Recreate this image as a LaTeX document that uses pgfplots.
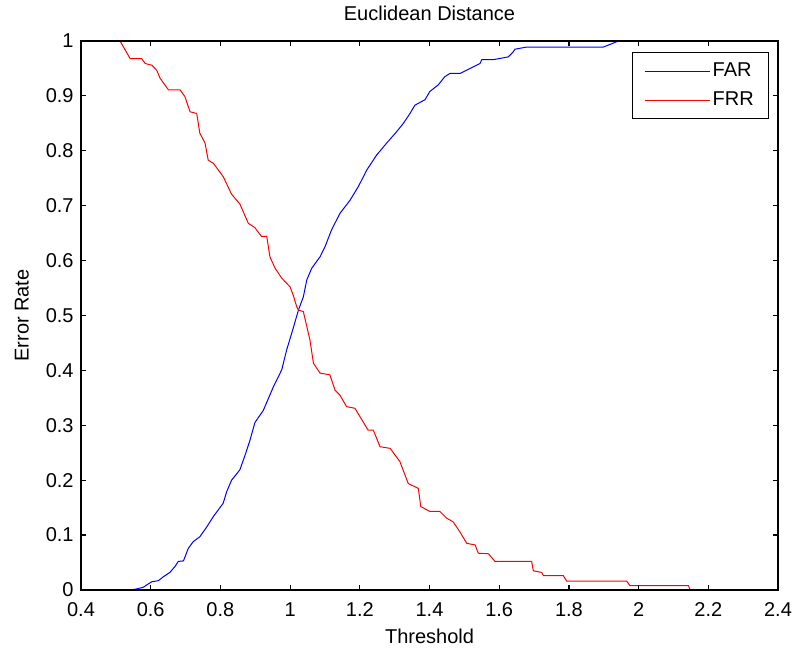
\documentclass[border=0pt]{standalone}
\usepackage{fontspec}
\setmainfont{Liberation Sans}
\usepackage{pgfplots}
\pgfplotsset{compat=1.18}

% 1 px of the reference = 0.75pt
\begin{document}
\begin{tikzpicture}
\useasboundingbox (-60.75pt,-44.25pt) rectangle (536.25pt,442.5pt);
\begin{axis}[
 at={(0,0)},anchor=south west,
 scale only axis,width=522.75pt,height=411.75pt,
 xmin=0.4,xmax=2.4,ymin=0,ymax=1,
 xtick={0.4,0.6,...,2.41},ytick={0,0.1,...,1.01},
 xticklabels={0.4,0.6,0.8,1,1.2,1.4,1.6,1.8,2,2.2,2.4},
 yticklabels={0,0.1,0.2,0.3,0.4,0.5,0.6,0.7,0.8,0.9,1},
 tick align=inside,major tick length=4pt,
 axis line style={line width=0.9pt},
 every tick/.style={black,line width=0.9pt},
 font=\fontsize{15}{18}\selectfont,
 tick label style={font=\fontsize{15}{18}\selectfont},
 xticklabel style={yshift=-6pt},
 yticklabel style={xshift=-2pt},
 every axis title shift=0pt,
 title={Euclidean Distance},
 title style={at={(axis description cs:0.5,1.051)},anchor=center},
 xlabel={Threshold},
 xlabel style={at={(axis description cs:0.5,-0.0838)},anchor=center},
 ylabel={Error Rate},
 ylabel style={at={(axis description cs:-0.0847,0.5)},anchor=center},
 axis on top,
 legend cell align=left,
 legend style={at={(0.987,0.98)},anchor=north east,draw=black,line width=0.75pt,
   font=\fontsize{15}{18}\selectfont,inner xsep=9pt,inner ysep=6pt,
   row sep=6pt,
   /tikz/every even column/.append style={column sep=2pt}},
 legend image code/.code={\draw[#1,line width=0.75pt] (0pt,0pt) -- (48.75pt,0pt);},
]
\addplot[blue,line width=0.75pt] coordinates {
(0.541,0.000) (0.560,0.002) (0.579,0.005) (0.588,0.009) (0.603,0.015)
(0.622,0.017) (0.636,0.024) (0.655,0.032) (0.670,0.043) (0.679,0.052)
(0.694,0.053) (0.708,0.076) (0.722,0.088) (0.741,0.097) (0.761,0.115)
(0.780,0.134) (0.794,0.146) (0.808,0.158) (0.818,0.179) (0.832,0.200)
(0.856,0.219) (0.871,0.246) (0.885,0.273) (0.899,0.305) (0.923,0.327)
(0.952,0.370) (0.976,0.401) (0.990,0.437) (1.009,0.477) (1.024,0.510)
(1.038,0.534) (1.048,0.565) (1.062,0.586) (1.086,0.607) (1.100,0.625)
(1.119,0.656) (1.143,0.686) (1.172,0.710) (1.196,0.735) (1.220,0.765)
(1.248,0.792) (1.277,0.814) (1.306,0.835) (1.325,0.850) (1.344,0.868)
(1.358,0.883) (1.387,0.893) (1.401,0.908) (1.425,0.920) (1.444,0.935)
(1.459,0.941) (1.488,0.941) (1.507,0.947) (1.526,0.953) (1.545,0.959)
(1.550,0.966) (1.583,0.966) (1.626,0.971) (1.640,0.980) (1.645,0.985)
(1.679,0.989) (1.899,0.989) (1.923,0.995) (1.942,1.000) (2.150,1.000)
};
\addplot[red,line width=0.75pt] coordinates {
(0.512,1.000) (0.541,0.968) (0.574,0.968) (0.584,0.959) (0.603,0.956)
(0.617,0.947) (0.627,0.932) (0.651,0.911) (0.684,0.911) (0.698,0.899)
(0.713,0.871) (0.732,0.868) (0.741,0.832) (0.756,0.814) (0.765,0.783)
(0.780,0.777) (0.808,0.753) (0.832,0.721) (0.856,0.703) (0.880,0.668)
(0.899,0.660) (0.918,0.644) (0.933,0.644) (0.942,0.607) (0.957,0.586)
(0.976,0.568) (1.000,0.552) (1.009,0.537) (1.019,0.516) (1.024,0.510)
(1.038,0.507) (1.048,0.480) (1.057,0.455) (1.067,0.413) (1.086,0.395)
(1.114,0.392) (1.129,0.364) (1.143,0.355) (1.162,0.334) (1.186,0.331)
(1.224,0.291) (1.239,0.291) (1.258,0.261) (1.287,0.258) (1.315,0.234)
(1.339,0.194) (1.368,0.185) (1.375,0.152) (1.401,0.143) (1.430,0.143)
(1.449,0.131) (1.468,0.124) (1.487,0.106) (1.507,0.085) (1.531,0.082)
(1.540,0.067) (1.569,0.066) (1.588,0.052) (1.693,0.052) (1.698,0.035)
(1.722,0.032) (1.727,0.026) (1.784,0.026) (1.794,0.016) (1.966,0.016)
(1.975,0.008) (2.143,0.008) (2.148,0.000)
};
\legend{FAR,FRR}
\end{axis}
\end{tikzpicture}
\end{document}
